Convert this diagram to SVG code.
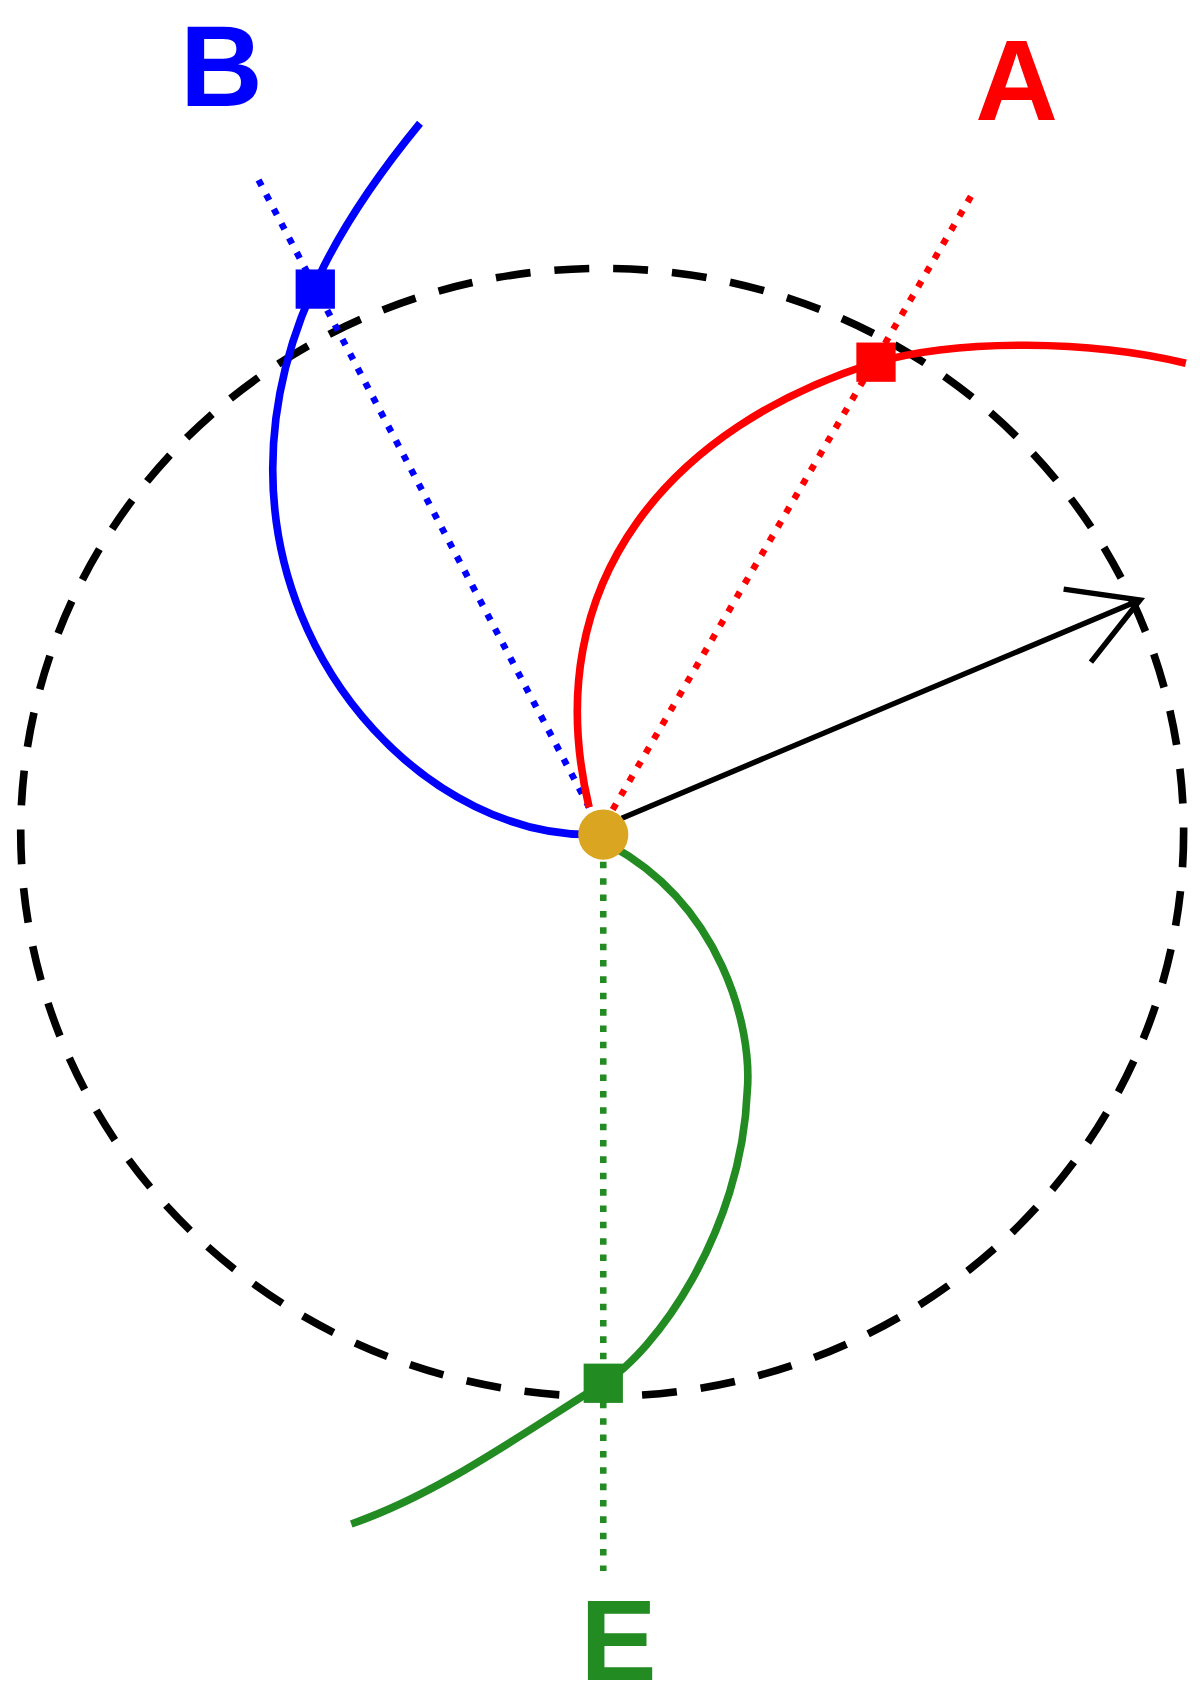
<svg xmlns="http://www.w3.org/2000/svg" width="1200" height="1696" viewBox="0 0 1200 1696">
<style>
.c{fill:none;stroke-width:7}
.d{fill:none;stroke-width:6;stroke-dasharray:6 9}
.t{font-family:"Liberation Sans",Arial,sans-serif;font-size:105px;font-weight:bold;text-anchor:middle}
</style>
<rect width="1200" height="1696" fill="#fff"/>
<g transform="scale(1.0909)">
<g id="connectors">
<ellipse cx="552" cy="763" rx="533" ry="517" fill="none" stroke="#000" stroke-width="7" stroke-dasharray="32 22"/>
<path class="c" stroke="#0000ff" d="M385,113 C330,180 250,290 250,430 C250,620 400,765 540,765"/>
<path class="d" stroke="#0000ff" d="M237,165 L540,740"/>
<path class="c" stroke="#ff0000" d="M1087,333 C1000,312 880,310 800,333 C620,390 490,530 540,740"/>
<path class="d" stroke="#ff0000" d="M890,180 L560,745"/>
<path class="c" stroke="#228b22" d="M560,775 C660,830 690,940 685,1000 C680,1130 600,1240 553,1268 C470,1320 400,1370 322,1397"/>
<path class="d" stroke="#228b22" d="M553,790 L553,1440"/>
<path fill="none" stroke="#000" stroke-width="5" d="M570,750 L1045,550 M975,540 L1045,550 L1000,607"/>
</g>
<g id="nodeB"><rect x="271" y="247" width="36" height="36" fill="#0000ff"/><text class="t" x="203" y="97" fill="#0000ff">B</text></g>
<g id="nodeA"><rect x="785" y="314" width="36" height="36" fill="#ff0000"/><text class="t" x="932" y="110" fill="#ff0000">A</text></g>
<g id="nodeE"><rect x="535" y="1250" width="36" height="36" fill="#228b22"/><text class="t" x="567" y="1540" fill="#228b22">E</text></g>
<g id="center"><circle cx="553" cy="765" r="23" fill="#daa520"/></g>
</g>
</svg>
